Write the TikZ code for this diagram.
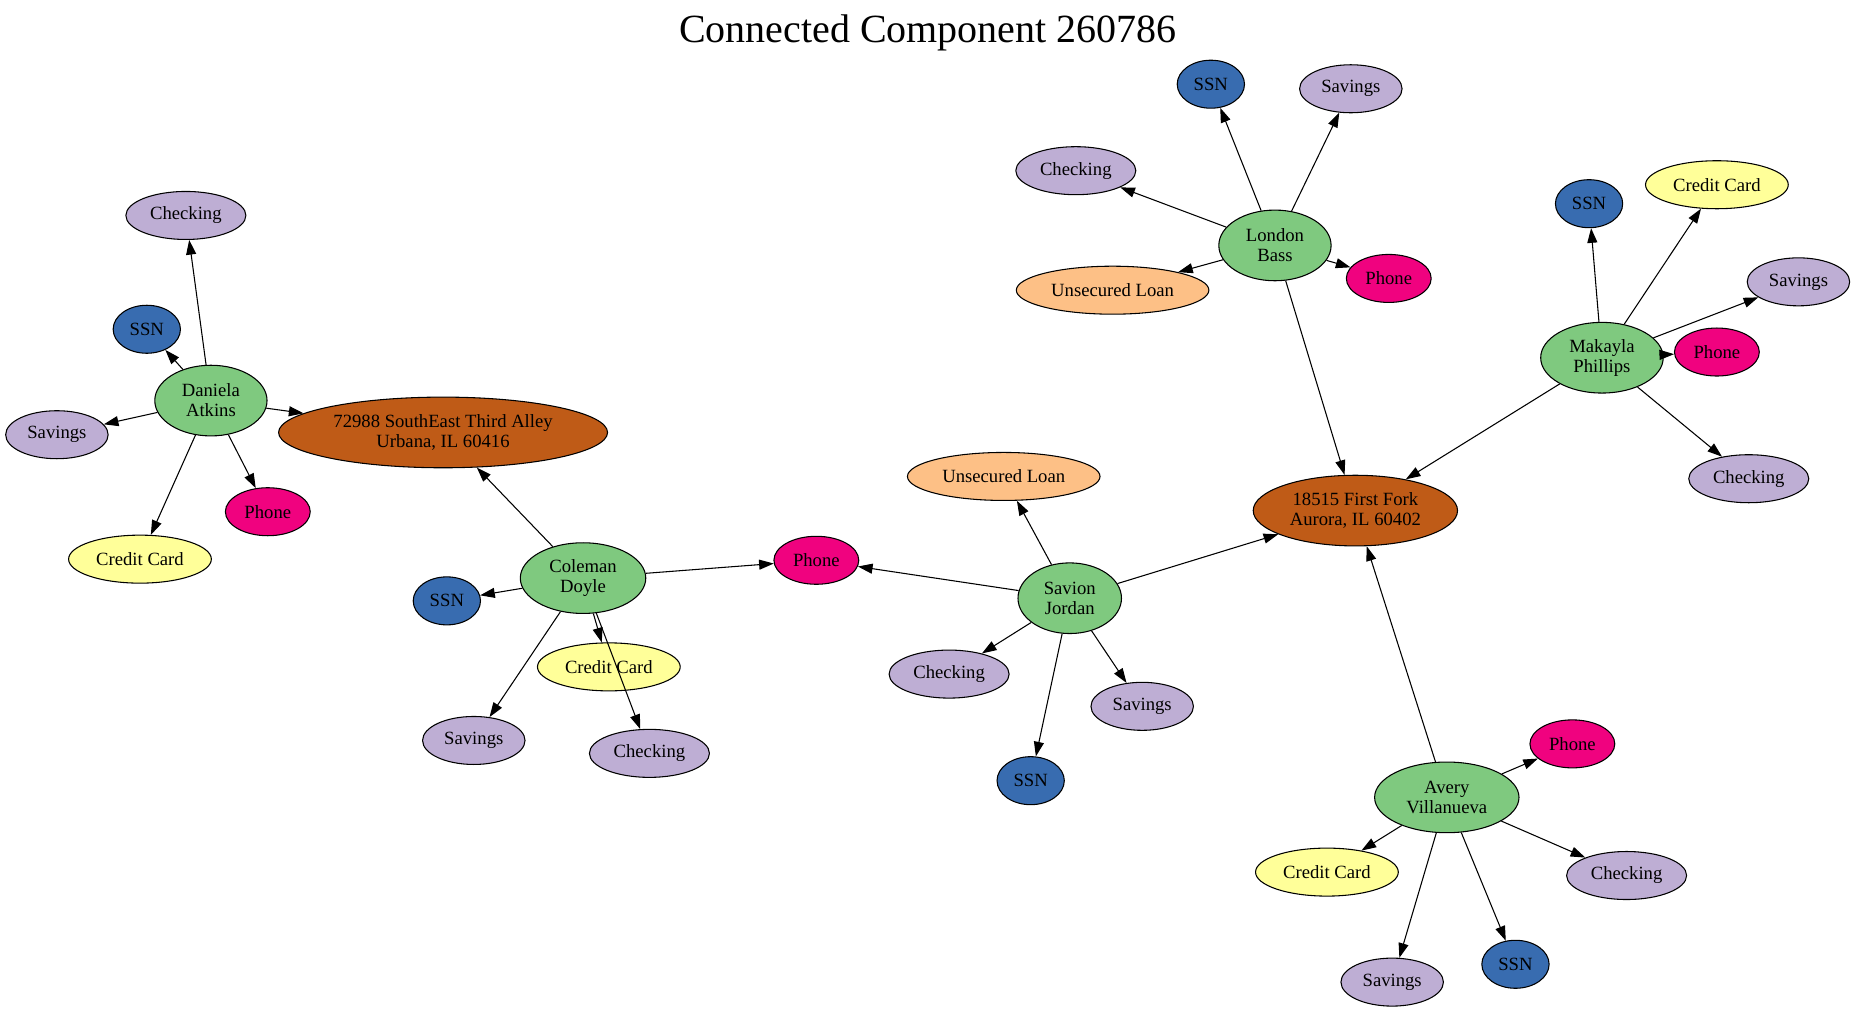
\documentclass[tikz,border=0pt]{standalone}
\usepackage{fontspec}
\setmainfont{Liberation Serif}
\usetikzlibrary{shapes.geometric,arrows.meta}

\definecolor{cvert}{HTML}{7FC97F}
\definecolor{cmauve}{HTML}{BEAED4}
\definecolor{corange}{HTML}{FDC086}
\definecolor{cjaune}{HTML}{FFFF99}
\definecolor{cbleu}{HTML}{386CB0}
\definecolor{crose}{HTML}{F0027F}
\definecolor{cbrun}{HTML}{BF5B17}

\tikzset{noeud/.style = {minimum height = #1, inner ysep = 0pt, inner xsep = 5pt,
                         font = \fontsize{14}{15}\selectfont, align = center},
         noeud/.default = 36pt,
         personne/.style = {noeud = 53pt, inner xsep = 8pt, fill = cvert},
         adresse/.style = {noeud = 53pt, fill = cbrun},
         compte/.style = {noeud, fill = cmauve},
         pret/.style = {noeud, fill = corange},
         carte/.style = {noeud, fill = cjaune},
         nss/.style = {noeud, fill = cbleu},
         tel/.style = {noeud, fill = crose},
         fleche/.style = {line width = 0.8pt, -{Triangle[length = 11pt, width = 7.5pt]}}
        }

\begin{document}
\begin{tikzpicture}
\tikzstyle{every node}=[ellipse,draw,line width=0.8pt]
\useasboundingbox (0,0) rectangle (48.98,-26.71);
\node[draw = none, font = \fontsize{30}{36}\selectfont] at (24.46,-0.87) (titre) {Connected Component 260786};

\node[personne] at (5.56,-10.56) (d) {Daniela\\Atkins};
\node[compte] at (4.90,-5.68) (dck) {Checking};
\node[nss] at (3.87,-8.68) (dssn) {SSN};
\node[compte] at (1.50,-11.46) (dsav) {Savings};
\node[tel] at (7.06,-13.49) (dtel) {Phone};
\node[carte] at (3.69,-14.74) (dcc) {Credit Card};
\node[adresse] at (11.68,-11.40) (a1) {72988 SouthEast Third Alley\\Urbana, IL 60416};

\node[personne] at (15.37,-15.24) (c) {Coleman\\Doyle};
\node[nss] at (11.78,-15.84) (cssn) {SSN};
\node[carte] at (16.05,-17.58) (ccc) {Credit Card};
\node[compte] at (12.49,-19.52) (csav) {Savings};
\node[compte] at (17.12,-19.86) (cck) {Checking};
\node[tel] at (21.52,-14.77) (tel) {Phone};

\node[personne] at (28.20,-15.77) (s) {Savion\\Jordan};
\node[pret] at (26.46,-12.56) (sul) {Unsecured Loan};
\node[compte] at (25.02,-17.77) (sck) {Checking};
\node[compte] at (30.11,-18.62) (ssav) {Savings};
\node[nss] at (27.17,-20.58) (sssn) {SSN};
\node[adresse] at (35.73,-13.46) (a2) {18515 First Fork\\Aurora, IL 60402};

\node[personne] at (33.61,-6.47) (l) {London\\Bass};
\node[nss] at (31.92,-2.22) (lssn) {SSN};
\node[compte] at (35.61,-2.34) (lsav) {Savings};
\node[compte] at (28.36,-4.50) (lck) {Checking};
\node[pret] at (29.33,-7.65) (lul) {Unsecured Loan};
\node[tel] at (36.61,-7.34) (ltel) {Phone};

\node[personne] at (42.23,-9.43) (m) {Makayla\\Phillips};
\node[nss] at (41.89,-5.37) (mssn) {SSN};
\node[carte] at (45.26,-4.87) (mcc) {Credit Card};
\node[compte] at (47.41,-7.43) (msav) {Savings};
\node[tel] at (45.26,-9.28) (mtel) {Phone};
\node[compte] at (46.10,-12.62) (mck) {Checking};

\node[personne] at (38.14,-21.02) (v) {Avery\\Villanueva};
\node[tel] at (41.45,-19.61) (vtel) {Phone};
\node[carte] at (34.98,-22.99) (vcc) {Credit Card};
\node[compte] at (42.88,-23.08) (vck) {Checking};
\node[compte] at (36.70,-25.89) (vsav) {Savings};
\node[nss] at (39.95,-25.42) (vssn) {SSN};

\draw[fleche] (d) -- (dck);
\draw[fleche] (d) -- (dssn);
\draw[fleche] (d) -- (dsav);
\draw[fleche] (d) -- (dtel);
\draw[fleche] (d) -- (dcc);
\draw[fleche] (d) -- (a1);

\draw[fleche] (c) -- (a1);
\draw[fleche] (c) -- (cssn);
\draw[fleche] (c) -- (ccc);
\draw[fleche] (c) -- (csav);
\draw[fleche] (c) -- (cck);
\draw[fleche] (c) -- (tel);

\draw[fleche] (s) -- (tel);
\draw[fleche] (s) -- (sul);
\draw[fleche] (s) -- (sck);
\draw[fleche] (s) -- (ssav);
\draw[fleche] (s) -- (sssn);
\draw[fleche] (s) -- (a2);

\draw[fleche] (l) -- (lssn);
\draw[fleche] (l) -- (lsav);
\draw[fleche] (l) -- (lck);
\draw[fleche] (l) -- (lul);
\draw[fleche] (l) -- (ltel);
\draw[fleche] (l) -- (a2);

\draw[fleche] (m) -- (mssn);
\draw[fleche] (m) -- (mcc);
\draw[fleche] (m) -- (msav);
\draw[fleche] (m) -- (mtel);
\draw[fleche] (m) -- (mck);
\draw[fleche] (m) -- (a2);

\draw[fleche] (v) -- (a2);
\draw[fleche] (v) -- (vtel);
\draw[fleche] (v) -- (vcc);
\draw[fleche] (v) -- (vck);
\draw[fleche] (v) -- (vsav);
\draw[fleche] (v) -- (vssn);
\end{tikzpicture}
\end{document}
